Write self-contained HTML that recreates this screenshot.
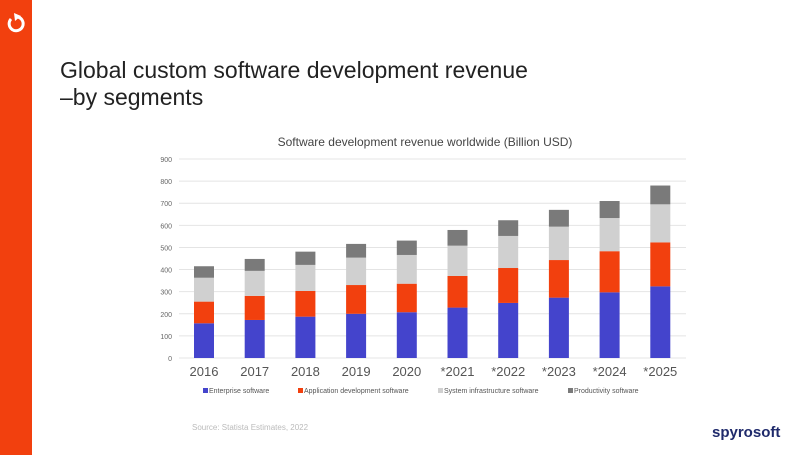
<!DOCTYPE html>
<html><head><meta charset="utf-8"><style>
body{margin:0;width:794px;height:455px;background:#fff;font-family:"Liberation Sans",sans-serif;overflow:hidden;position:relative}
</style></head><body>
<div style="position:absolute;left:0;top:0;width:32px;height:455px;background:#f2400e"></div>
<svg style="position:absolute;left:5px;top:10px" width="22" height="24" viewBox="0 0 22 24"><path d="M6 9 A7 7 0 1 0 13 7" fill="none" stroke="#fff" stroke-width="3"/><path d="M9 3 L16 6 L10 11 Z" fill="#fff"/></svg>
<div style="position:absolute;left:60px;top:57px;font-size:23px;line-height:27px;color:#222">Global custom software development revenue<br>–by segments</div>
<svg id="chart" style="position:absolute;left:0;top:0" width="794" height="455"></svg>
<div style="position:absolute;left:192px;top:423px;font-size:8px;color:#bbb">Source: Statista Estimates, 2022</div>
<div style="position:absolute;left:712px;top:424px;font-size:15px;font-weight:bold;color:#1f2a6b">spyrosoft</div>
<script>
const categories=["2016","2017","2018","2019","2020","*2021","*2022","*2023","*2024","*2025"];
const enterprise=[157,172,187,200,207,228,249,273,297,324];
const appDev=[98,109,116,130,129,143,158,170,186,199];
const sysInfra=[108,113,118,124,130,137,145,151,150,172];
const productivity=[52,54,60,62,65,71,71,76,77,85];
const yTicks=[0,100,200,300,400,500,600,700,800,900];
const seriesNames=["Enterprise software","Application development software","System infrastructure software","Productivity software"];
const colors=["#4444cc","#f2400e","#d0d0d0","#7a7a7a"];
const series=[enterprise,appDev,sysInfra,productivity];
const NS="http://www.w3.org/2000/svg";
const svg=document.getElementById('chart');
const y0=358,y900=159,x0=179,x1=686;
const yS=v=>y0-(v/900)*(y0-y900);
const xC=i=>204+i*50.7;
function mk(t,a){const e=document.createElementNS(NS,t);for(const k in a)e.setAttribute(k,a[k]);svg.appendChild(e);return e;}
const tt=mk('text',{x:425,y:146,'font-size':12,fill:'#444','text-anchor':'middle','font-family':'Liberation Sans, sans-serif'});
tt.textContent="Software development revenue worldwide (Billion USD)";


yTicks.forEach(v=>{
 const l=mk('line',{x1:x0,x2:x1,y1:yS(v),y2:yS(v),stroke:'#e4e4e4','stroke-width':1});
 
 
 const t=mk('text',{x:172,y:yS(v)+3,'font-size':7,fill:'#666','text-anchor':'end','font-family':'Liberation Sans, sans-serif'});
 t.textContent=v;
 
 
});
categories.forEach((c,i)=>{
 let acc=0;
 series.forEach((s,k)=>{
  const r=mk('rect',{x:xC(i)-10,width:20,y:yS(acc+s[i]),height:yS(acc)-yS(acc+s[i]),fill:colors[k]});
  
  
  acc+=s[i];
 });
 const t=mk('text',{x:xC(i),y:376,'font-size':13,fill:'#555','text-anchor':'middle','font-family':'Liberation Sans, sans-serif'});
 t.textContent=c;
 
 
});
const lx=[203,298,438,568];
seriesNames.forEach((n,k)=>{
 const r=mk('rect',{x:lx[k],y:388,width:5,height:5,fill:colors[k]});
 
 
 const t=mk('text',{x:lx[k]+6,y:393,'font-size':7,fill:'#555','font-family':'Liberation Sans, sans-serif'});
 t.textContent=n;
 
 
});
</script>
</body></html>
